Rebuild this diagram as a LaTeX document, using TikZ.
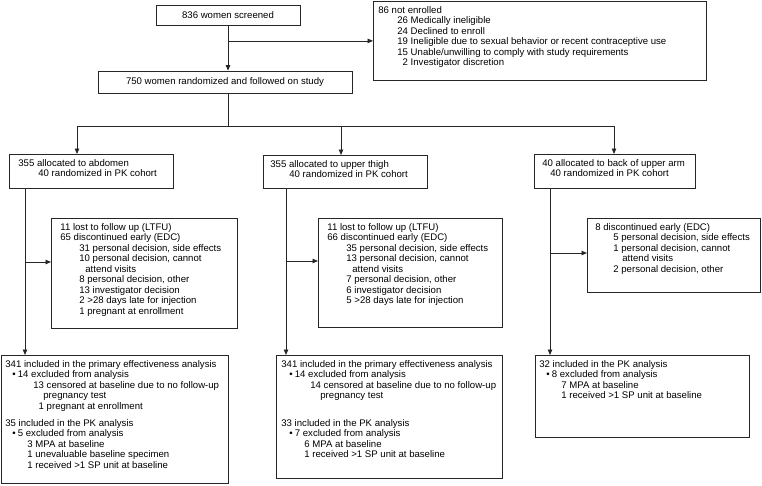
\documentclass[tikz,border=0pt]{standalone}
\usepackage{fontspec}
\setmainfont{Liberation Sans}
\usetikzlibrary{arrows.meta}
\newcommand{\fsz}{\fontsize{9.6}{10.5}\selectfont}
\newcommand{\bxt}[3]{\parbox[t][#2][t]{#1}{\fsz\rule{0pt}{7pt}#3}}
\newcommand{\Lx}[2]{\hspace*{#1pt}\mbox{#2}}
\newcommand{\Bu}{\makebox[5.5pt][l]{\textbullet}}
\begin{document}
\begin{tikzpicture}[x=1pt,y=-1pt,
  box/.style={draw=black!85, line width=0.8pt, anchor=north west, inner xsep=0pt, inner ysep=5pt},
  cbox/.style={draw=black!85, line width=0.8pt, font=\fsz, inner sep=0pt},
  arr/.style={draw=black!85, line width=0.8pt, -{Triangle[length=5.5pt,width=4.5pt]}},
  ln/.style={draw=black!85, line width=0.8pt}]
\useasboundingbox (0,0) rectangle (762,485);
% top
\node[cbox, minimum width=144pt, minimum height=20pt] (s) at (228,15) {836 women screened};
\node[cbox, minimum width=254pt, minimum height=22pt] (r) at (225,82) {750 women randomized and followed on study};
\node[box] (n) at (373,1) {\bxt{333pt}{69pt}{%
\Lx{5}{86 not enrolled}\\
\Lx{24}{26 Medically ineligible}\\
\Lx{24}{24 Declined to enroll}\\
\Lx{24}{19 Ineligible due to sexual behavior or recent contraceptive use}\\
\Lx{24}{15 Unable/unwilling to comply with study requirements}\\
\Lx{24}{\phantom{1}2 Investigator discretion}}};
% allocation
\node[box] (a1) at (9,154) {\bxt{164pt}{24pt}{%
\Lx{9}{355 allocated to abdomen}\\
\Lx{29}{40 randomized in PK cohort}}};
\node[box] (a2) at (263,155) {\bxt{164pt}{23pt}{%
\Lx{7}{355 allocated to upper thigh}\\
\Lx{26}{40 randomized in PK cohort}}};
\node[box] (a3) at (534,154) {\bxt{161pt}{24pt}{%
\Lx{8}{40 allocated to back of upper arm}\\
\Lx{16}{40 randomized in PK cohort}}};
% losses
\node[box] (l1) at (51,218) {\bxt{186pt}{100pt}{%
\Lx{9}{11 lost to follow up (LTFU)}\\
\Lx{9}{65 discontinued early (EDC)}\\
\Lx{28}{31 personal decision, side effects}\\
\Lx{28}{10 personal decision, cannot}\\
\Lx{34}{attend visits}\\
\Lx{28}{8 personal decision, other}\\
\Lx{28}{13 investigator decision}\\
\Lx{28}{2 >28 days late for injection}\\
\Lx{28}{1 pregnant at enrollment}}};
\node[box] (l2) at (318,218) {\bxt{184pt}{99pt}{%
\Lx{9}{11 lost to follow up (LTFU)}\\
\Lx{9}{66 discontinued early (EDC)}\\
\Lx{28}{35 personal decision, side effects}\\
\Lx{28}{13 personal decision, cannot}\\
\Lx{34}{attend visits}\\
\Lx{28}{7 personal decision, other}\\
\Lx{28}{6 investigator decision}\\
\Lx{28}{5 >28 days late for injection}}};
\node[box] (l3) at (587,218) {\bxt{173pt}{64pt}{%
\Lx{8}{8 discontinued early (EDC)}\\
\Lx{26}{5 personal decision, side effects}\\
\Lx{26}{1 personal decision, cannot}\\
\Lx{35}{attend visits}\\
\Lx{26}{2 personal decision, other}}};
% results
\node[box] (b1) at (1,355) {\bxt{227pt}{118pt}{%
\Lx{4}{341 included in the primary effectiveness analysis}\\
\Lx{11}{\Bu 14 excluded from analysis}\\
\Lx{32}{13 censored at baseline due to no follow-up}\\
\Lx{42}{pregnancy test}\\
\Lx{32}{\phantom{1}1 pregnant at enrollment}\\[6.5pt]
\Lx{4}{35 included in the PK analysis}\\
\Lx{11}{\Bu 5 excluded from analysis}\\
\Lx{26}{3 MPA at baseline}\\
\Lx{26}{1 unevaluable baseline specimen}\\
\Lx{26}{1 received >1 SP unit at baseline}}};
\node[box] (b2) at (276,355) {\bxt{226pt}{113pt}{%
\Lx{5}{341 included in the primary effectiveness analysis}\\
\Lx{13}{\Bu 14 excluded from analysis}\\
\Lx{34}{14 censored at baseline due to no follow-up}\\
\Lx{44}{pregnancy test}\\[17pt]
\Lx{5}{33 included in the PK analysis}\\
\Lx{13}{\Bu 7 excluded from analysis}\\
\Lx{28}{6 MPA at baseline}\\
\Lx{28}{1 received >1 SP unit at baseline}}};
\node[box] (b3) at (535,355) {\bxt{214pt}{72pt}{%
\Lx{4}{32 included in the PK analysis}\\
\Lx{11}{\Bu 8 excluded from analysis}\\
\Lx{26}{7 MPA at baseline}\\
\Lx{26}{1 received >1 SP unit at baseline}}};
% connectors
\draw[arr] (s.south) -- (s.south |- r.north);
\draw[arr] (s.south |- n.west) -- (n.west);
\coordinate (br) at (228,126);
\coordinate (j1) at (77,126);
\coordinate (j2) at (341,126);
\coordinate (j3) at (614,126);
\draw[ln] (s.south |- r.south) -- (br);
\draw[ln] (j1) -- (j3);
\draw[arr] (j1) -- (j1 |- a1.north);
\draw[arr] (j2) -- (j2 |- a2.north);
\draw[arr] (j3) -- (j3 |- a3.north);
\coordinate (t1) at (25,262);
\coordinate (t2) at (286,261);
\coordinate (t3) at (550,253);
\draw[arr] (a1.south -| t1) -- (b1.north -| t1);
\draw[arr] (a2.south -| t2) -- (b2.north -| t2);
\draw[arr] (a3.south -| t3) -- (b3.north -| t3);
\draw[arr] (t1) -- (t1 -| l1.west);
\draw[arr] (t2) -- (t2 -| l2.west);
\draw[arr] (t3) -- (t3 -| l3.west);
\end{tikzpicture}
\end{document}
